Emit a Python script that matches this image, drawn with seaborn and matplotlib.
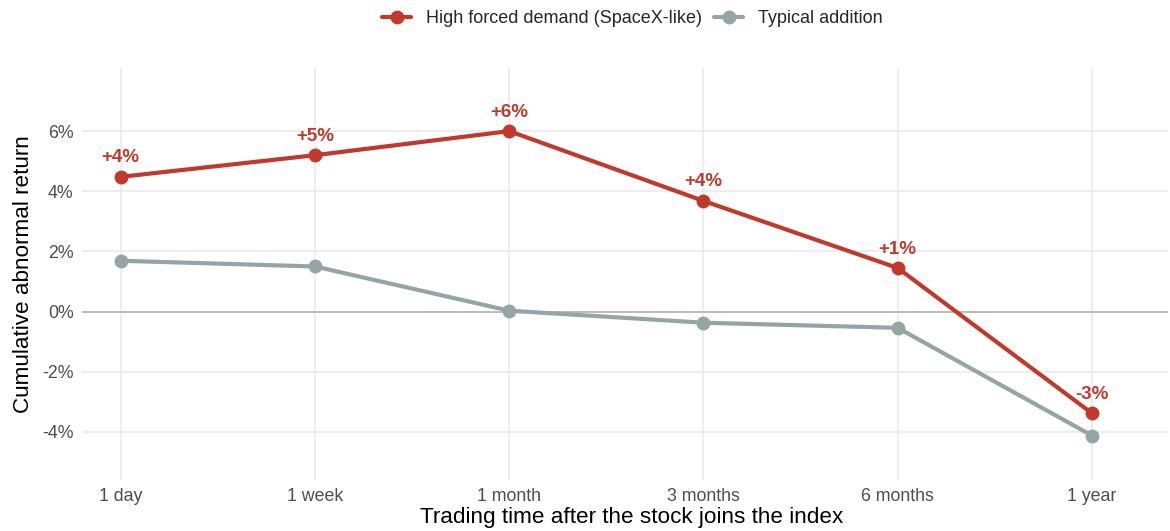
import matplotlib
matplotlib.use("Agg")
import matplotlib.pyplot as plt
import seaborn as sns
import pandas as pd
from matplotlib.ticker import FuncFormatter

periods = ["1 day", "1 week", "1 month", "3 months", "6 months", "1 year"]
high_demand = [4.48, 5.2, 6.0, 3.68, 1.45, -3.38]
typical = [1.69, 1.50, 0.03, -0.37, -0.54, -4.12]
high_labels = ["+4%", "+5%", "+6%", "+4%", "+1%", "-3%"]
series_names = ["High forced demand (SpaceX-like)", "Typical addition"]
yticks = [-4, -2, 0, 2, 4, 6]

red = "#C0392B"
gray = "#95A5A6"

sns.set_theme(style="whitegrid")
plt.rcParams["font.family"] = ["Liberation Sans", "DejaVu Sans"]

df = pd.DataFrame({
    "period": periods * 2,
    "x": list(range(len(periods))) * 2,
    "value": high_demand + typical,
    "series": [series_names[0]] * len(periods) + [series_names[1]] * len(periods),
})

fig = plt.figure(figsize=(11.7, 5.31), dpi=100)
ax = fig.add_axes([0.070, 0.096, 0.928, 0.776])

ax.axhline(0, color="#b3b3b3", lw=1.2, zorder=1)

sns.lineplot(data=df, x="x", y="value", hue="series", hue_order=series_names,
             palette=[red, gray], marker="o", markersize=10, markeredgewidth=0,
             linewidth=3, ax=ax, zorder=3, legend=True)

for i, (v, lab) in enumerate(zip(high_demand, high_labels)):
    ax.annotate(lab, (i, v), xytext=(0, 7.5), textcoords="offset points",
                ha="center", va="bottom", color=red, fontsize=13.5, fontweight="bold")

ax.set_xlim(-0.2, 5.39)
ax.set_ylim(-5.6, 8.1)
ax.set_xticks(range(len(periods)))
ax.set_xticklabels(periods)
ax.set_yticks(yticks)
ax.yaxis.set_major_formatter(FuncFormatter(lambda v, p: f"{v:.0f}%"))
ax.tick_params(axis="both", labelsize=12.8, colors="#4d4d4d", length=0, pad=6)
ax.set_xlabel("Trading time after the stock joins the index", fontsize=16.2, color="black")
ax.xaxis.set_label_coords(0.506, -0.066)
ax.set_ylabel("Cumulative abnormal return", fontsize=16.2, color="black", labelpad=6)
ax.grid(True, color="#ebebeb", lw=1.2)
for s in ax.spines.values():
    s.set_visible(False)

handles, labels = ax.get_legend_handles_labels()
leg = ax.legend(handles, labels, loc="center", bbox_to_anchor=(0.507, 1.12),
                ncol=2, frameon=False, fontsize=13, handlelength=1.6,
                columnspacing=0.7, handletextpad=0.8)

fig.savefig("out.png", dpi=100)
